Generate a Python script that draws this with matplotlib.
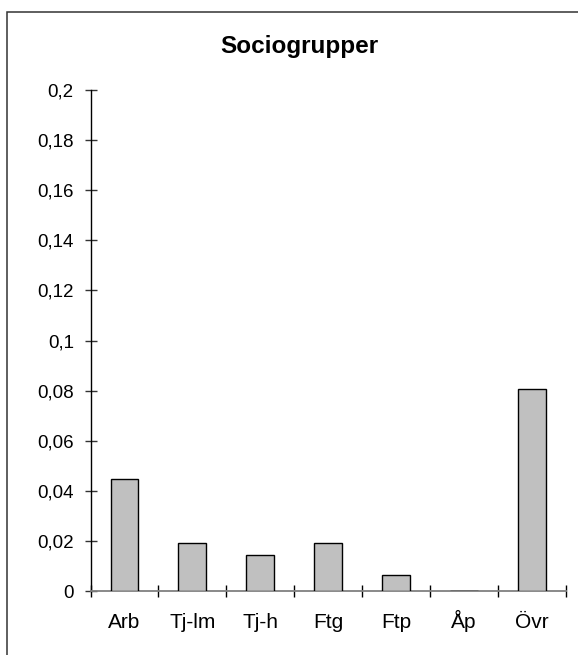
import numpy as np
import matplotlib
matplotlib.use('Agg')
import matplotlib.pyplot as plt
from matplotlib.patches import Rectangle
from matplotlib.ticker import FuncFormatter, MultipleLocator

# Data
kategorier = ['Arb', 'Tj-lm', 'Tj-h', 'Ftg', 'Ftp', 'Åp', 'Övr']
andelar = [0.0447, 0.0191, 0.0144, 0.019, 0.0063, 0.0, 0.0807]

plt.rcParams['font.family'] = ['Liberation Sans', 'DejaVu Sans']

W, H = 578, 655
fig = plt.figure(figsize=(W / 100, H / 100), dpi=100, facecolor='white')

# Ram runt diagrammet (beskuren till höger och nedtill)
fig.patches.append(Rectangle((7 / W, -0.1), 1.2, 1 - 12.5 / H + 0.1,
                             transform=fig.transFigure, fill=False,
                             edgecolor='#333333', linewidth=1.1))

ax = fig.add_axes([90.5 / W, 64 / H, (566 - 90.5) / W, (591 - 90) / H])
x = np.arange(len(kategorier))
ax.bar(x, andelar, width=0.41, color='#C0C0C0', edgecolor='black', linewidth=1.0, zorder=3)

ax.set_xlim(-0.5, len(kategorier) - 0.5)
ax.set_ylim(0, 0.2)
ax.yaxis.set_major_locator(MultipleLocator(0.02))
ax.yaxis.set_major_formatter(FuncFormatter(
    lambda v, p: '0' if abs(v) < 1e-9 else ('%g' % round(v, 2)).replace('.', ',')))

ax.set_xticks(x)
ax.set_xticklabels(kategorier)
for t in ax.get_xticklabels():
    t.set_va('baseline')
ax.set_xticks(np.arange(len(kategorier) + 1) - 0.5, minor=True)
ax.tick_params(axis='x', which='major', length=0, pad=26.5, labelsize=15)
ax.tick_params(axis='x', which='minor', direction='inout', length=8.5, width=1.0, color='black')
ax.tick_params(axis='y', direction='inout', length=8, width=1.0, color='#333333', pad=8, labelsize=13.5)

for s in ['top', 'right']:
    ax.spines[s].set_visible(False)
ax.spines['left'].set_color('black')
ax.spines['left'].set_linewidth(1.0)
ax.spines['bottom'].set_color('#808080')
ax.spines['bottom'].set_linewidth(1.3)

fig.text(299 / W, 1 - 53.3 / H, 'Sociogrupper', ha='center', va='baseline',
         fontsize=17.5, fontweight='bold')

fig.savefig('out.png', dpi=100)
